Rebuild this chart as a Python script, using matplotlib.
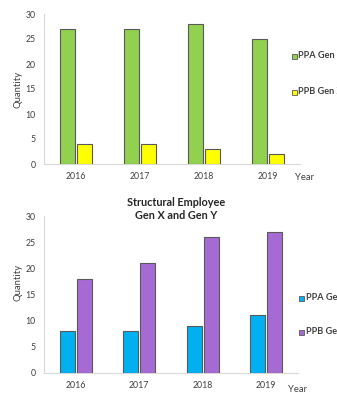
import matplotlib
matplotlib.use("Agg")
import matplotlib.pyplot as plt
import numpy as np

plt.rcParams["font.family"] = ["Lato", "DejaVu Sans"]

years = ["2016", "2017", "2018", "2019"]

# Gen X (top chart)
ppa_gen_x = [27, 27, 28, 25]
ppb_gen_x = [4, 4, 3, 2]

# Gen Y (bottom chart)
ppa_gen_y = [8, 8, 9, 11]
ppb_gen_y = [18, 21, 26, 27]

text_col = "#404040"
axis_col = "#d9d9d9"
edge_col = "#595959"


def draw_panel(ax, a_vals, b_vals, a_col, b_col):
    x = np.arange(len(years))
    w = 0.24
    off = 0.135
    ax.bar(x - off, a_vals, w, color=a_col, edgecolor=edge_col, linewidth=0.8, zorder=3)
    ax.bar(x + off, b_vals, w, color=b_col, edgecolor=edge_col, linewidth=0.8, zorder=3)
    ax.set_xlim(-0.5, len(years) - 0.5)
    ax.set_ylim(0, 30)
    ax.set_yticks(range(0, 31, 5))
    ax.set_xticks(x)
    ax.set_xticklabels(years)
    for s in ["top", "right"]:
        ax.spines[s].set_visible(False)
    for s in ["left", "bottom"]:
        ax.spines[s].set_color(axis_col)
        ax.spines[s].set_linewidth(0.8)
    ax.tick_params(axis="both", length=0, labelsize=6.3, colors=text_col)
    ax.tick_params(axis="y", pad=6)
    ax.tick_params(axis="x", pad=6)


fig = plt.figure(figsize=(3.37, 3.94), dpi=100)
H = 394.0
W = 337.0

ax1 = fig.add_axes([44 / W, (H - 164) / H, 256 / W, 150 / H])
draw_panel(ax1, ppa_gen_x, ppb_gen_x, "#92d050", "#ffff00")

ax2 = fig.add_axes([44 / W, (H - 373) / H, 254 / W, 157 / H])
draw_panel(ax2, ppa_gen_y, ppb_gen_y, "#00b0f0", "#a66bd3")

# axis captions
fig.text(18 / W, 1 - 89 / H, "Quantity", rotation=90, ha="center", va="center",
         fontsize=6.8, color=text_col)
fig.text(18 / W, 1 - 282 / H, "Quantity", rotation=90, ha="center", va="center",
         fontsize=6.8, color=text_col)
fig.text(295 / W, 1 - 178 / H, "Year", ha="left", va="center", fontsize=6.8, color=text_col)
fig.text(288 / W, 1 - 390 / H, "Year", ha="left", va="center", fontsize=6.8, color=text_col)

# title of the lower chart
fig.text(176 / W, 1 - 209 / H, "Structural Employee\nGen X and Gen Y", ha="center",
         va="center", fontsize=7.8, fontweight="bold", color="#262626", linespacing=1.3)

# legends on the right edge
legend_rows = [
    (56, 292, "PPA Gen X", "#92d050"),
    (92, 292, "PPB Gen X", "#ffff00"),
    (298, 299, "PPA Gen Y", "#00b0f0"),
    (332, 299, "PPB Gen Y", "#a66bd3"),
]
for y, x0, label, col in legend_rows:
    fig.patches.append(plt.Rectangle((x0 / W, 1 - (y + 2.5) / H), 5 / W, 5 / H,
                                     transform=fig.transFigure, facecolor=col,
                                     edgecolor=edge_col, linewidth=0.6))
    fig.text((x0 + 6.5) / W, 1 - y / H, label, ha="left", va="center", fontsize=6.6,
             fontweight="bold", color=text_col)

fig.savefig("out.png", dpi=100)
